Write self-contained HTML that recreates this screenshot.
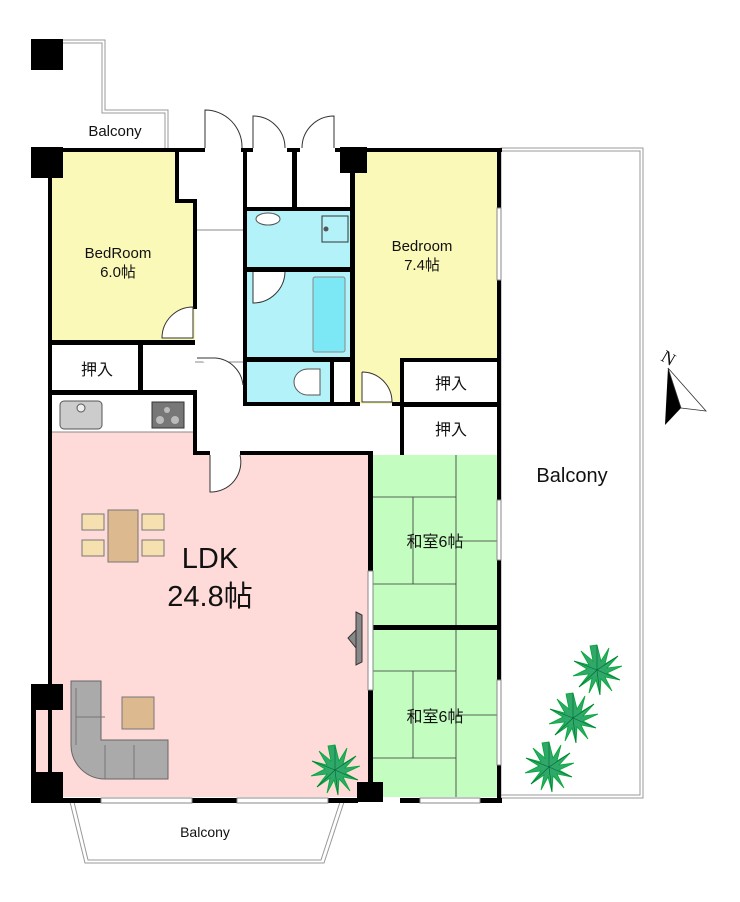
<!DOCTYPE html>
<html><head><meta charset="utf-8"><style>
html,body{margin:0;padding:0;background:#fff}
svg{display:block}
text{font-family:"Liberation Sans","Noto Sans CJK JP",sans-serif;fill:#111}
</style></head><body>
<svg width="740" height="902" viewBox="0 0 740 902" xmlns="http://www.w3.org/2000/svg">
<defs>
<g id="plant">
<polygon points="0,-25 4,-9 12,-22 8,-6 21,-14 10,-2 25,-4 10,3 23,10 8,7 15,21 4,9 3,25 -1,10 -8,23 -5,8 -18,17 -8,4 -24,6 -10,-1 -23,-9 -8,-5 -16,-19 -4,-9 -7,-24" fill="#2fa86a" stroke="#0a3" stroke-width="0.8"/>
<g stroke="#063" stroke-width="0.6"><line x1="0" y1="0" x2="0" y2="-25"/><line x1="0" y1="0" x2="21" y2="-14"/><line x1="0" y1="0" x2="23" y2="10"/><line x1="0" y1="0" x2="3" y2="25"/><line x1="0" y1="0" x2="-18" y2="17"/><line x1="0" y1="0" x2="-23" y2="-9"/></g>
</g>
</defs>

<g fill="none" stroke="#999" stroke-width="1">
<path d="M60,40 H105 V110 H168 V148"/><path d="M63,43 H102 V113 H165 V148"/>
<rect x="501" y="148" width="142" height="650"/><rect x="501" y="151" width="139" height="644"/>
<path d="M70,802 L85,863 H324 L344,802"/><path d="M74,802 L88,860 H321 L340,802"/>
</g>

<path d="M52,152 H176 V200 H195 V342 H52 Z" fill="#fbf9b8"/>
<rect x="355" y="152" width="143" height="208" fill="#fbf9b8"/>
<rect x="355" y="358" width="45" height="46" fill="#fbf9b8"/>
<rect x="247" y="210" width="103" height="57" fill="#b2f2f8"/>
<rect x="247" y="272" width="103" height="85" fill="#b2f2f8"/>
<rect x="247" y="362" width="83" height="40" fill="#b2f2f8"/>
<rect x="313" y="277" width="32" height="75" fill="#7de8f5" stroke="#888" rx="2"/>
<path d="M52,432 H195 V455 H368 V797 H52 Z" fill="#fedbd9"/>
<rect x="35" y="710" width="20" height="62" fill="#fedbd9"/>
<rect x="372" y="455" width="126" height="172" fill="#c3fdc0"/>
<rect x="372" y="630" width="126" height="167" fill="#c3fdc0"/>

<g stroke="#333" stroke-width="0.8" fill="none">
<line x1="456" y1="455" x2="456" y2="627"/><line x1="372" y1="497" x2="456" y2="497"/><line x1="413" y1="497" x2="413" y2="584"/><line x1="372" y1="584" x2="456" y2="584"/><line x1="456" y1="541" x2="498" y2="541"/>
<line x1="456" y1="630" x2="456" y2="797"/><line x1="372" y1="671" x2="456" y2="671"/><line x1="413" y1="671" x2="413" y2="758"/><line x1="372" y1="758" x2="456" y2="758"/><line x1="456" y1="715" x2="498" y2="715"/>
</g>

<g stroke="#888" stroke-width="1" fill="none">
<line x1="195" y1="230" x2="245" y2="230"/>
<line x1="52" y1="432" x2="195" y2="432"/>
<line x1="195" y1="362" x2="245" y2="362"/>
</g>

<g fill="#000">
<rect x="48" y="148" width="130" height="4"/>
<rect x="175" y="148" width="30" height="4"/><rect x="241" y="148" width="12" height="4"/><rect x="287" y="148" width="13" height="4"/><rect x="335" y="148" width="167" height="4"/>
<rect x="48" y="148" width="4" height="650"/>
<rect x="175" y="148" width="4" height="55"/><rect x="175" y="199" width="20" height="4"/>
<rect x="193" y="199" width="4" height="110"/>
<rect x="52" y="340" width="143" height="5"/>
<rect x="138" y="345" width="5" height="48"/>
<rect x="52" y="390" width="145" height="5"/>
<rect x="193" y="395" width="4" height="60"/>
<rect x="195" y="451" width="15" height="4"/><rect x="240" y="451" width="132" height="4"/>
<rect x="243" y="152" width="4" height="254"/>
<rect x="292" y="152" width="5" height="57"/>
<rect x="247" y="207" width="106" height="4"/>
<rect x="247" y="267" width="106" height="5"/>
<rect x="247" y="357" width="106" height="5"/>
<rect x="330" y="362" width="4" height="40"/>
<rect x="350" y="152" width="5" height="254"/>
<rect x="243" y="402" width="117" height="4"/><rect x="392" y="402" width="12" height="4"/>
<rect x="400" y="358" width="100" height="4"/>
<rect x="400" y="358" width="4" height="97"/>
<rect x="404" y="402" width="96" height="5"/>
<rect x="497" y="148" width="4" height="60"/><rect x="497" y="280" width="4" height="220"/><rect x="497" y="560" width="4" height="120"/><rect x="497" y="765" width="4" height="37"/>
<rect x="368" y="451" width="5" height="120"/><rect x="368" y="690" width="5" height="112"/>
<rect x="372" y="625" width="126" height="5"/>
<rect x="31" y="798" width="70" height="5"/><rect x="192" y="798" width="45" height="5"/><rect x="328" y="798" width="30" height="5"/><rect x="400" y="798" width="20" height="5"/><rect x="480" y="798" width="22" height="5"/>
<rect x="31" y="684" width="5" height="118"/>
<rect x="31" y="39" width="32" height="31"/>
<rect x="31" y="147" width="32" height="31"/>
<rect x="340" y="147" width="27" height="26"/>
<rect x="31" y="684" width="32" height="26"/>
<rect x="31" y="772" width="32" height="30"/>
<rect x="357" y="782" width="26" height="20"/>
</g>

<g stroke="#888" stroke-width="1" fill="#fff">
<rect x="497" y="208" width="4" height="72"/><rect x="497" y="500" width="4" height="60"/><rect x="497" y="680" width="4" height="85"/>
<rect x="101" y="798" width="91" height="5"/><rect x="237" y="798" width="91" height="5"/><rect x="420" y="798" width="60" height="5"/>
<rect x="368" y="571" width="5" height="119"/>
</g>

<g fill="#fff" stroke="#333" stroke-width="1">
<path d="M205,148 V110 A37,37 0 0 1 242,148"/>
<path d="M253,148 V116 A32,32 0 0 1 285,148"/>
<path d="M334,148 V116 A32,32 0 0 0 302,148"/>
<path d="M193,307 V338 H162 A31,31 0 0 1 193,307"/>
<path d="M253,272 V303 A32,32 0 0 0 285,272"/>
<path d="M362,372 V402 H392 A30,30 0 0 0 362,372"/>
<path d="M210,455 V492 A30,30 0 0 0 240,455"/>
<path d="M197,358 H215 A30,30 0 0 1 243,385"/>
</g>

<rect x="60" y="401" width="42" height="28" rx="4" fill="#ccc" stroke="#555"/>
<circle cx="81" cy="408" r="4" fill="#eee" stroke="#555"/>
<rect x="152" y="402" width="32" height="26" fill="#777" stroke="#333"/>
<g fill="#bbb"><circle cx="160" cy="420" r="4"/><circle cx="175" cy="420" r="4"/><circle cx="167" cy="410" r="3"/></g>
<ellipse cx="268" cy="219" rx="12" ry="6" fill="#fff" stroke="#555"/>
<rect x="322" y="216" width="26" height="26" fill="none" stroke="#333"/>
<circle cx="326" cy="229" r="2.5" fill="#555"/>
<path d="M308,369 H320 V395 H308 A14,13 0 0 1 308,369 Z" fill="#fff" stroke="#555"/>
<rect x="108" y="510" width="30" height="52" fill="#dcb98f" stroke="#777"/>
<g fill="#f6e0b0" stroke="#777"><rect x="82" y="514" width="22" height="16"/><rect x="82" y="540" width="22" height="16"/><rect x="142" y="514" width="22" height="16"/><rect x="142" y="540" width="22" height="16"/></g>
<rect x="122" y="697" width="32" height="32" fill="#dcb98f" stroke="#777"/>
<path d="M71,681 H101 V740 H168 V779 H105 A34,34 0 0 1 71,745 Z" fill="#aaa" stroke="#666"/>
<g stroke="#777" fill="none"><line x1="76" y1="688" x2="76" y2="745"/><line x1="76" y1="717" x2="105" y2="717"/><line x1="105" y1="745" x2="105" y2="779"/><line x1="134" y1="745" x2="134" y2="779"/></g>
<path d="M356,612 L362,615 V662 L356,665 Z" fill="#888" stroke="#333"/>
<path d="M356,630 L348,638 L356,648 Z" fill="#888" stroke="#333"/>

<use href="#plant" x="335" y="770"/>
<use href="#plant" x="597" y="670"/>
<use href="#plant" x="573" y="718"/>
<use href="#plant" x="549" y="767"/>

<polygon points="668,368 681,408 665,425" fill="#000"/>
<polygon points="668,368 706,411 681,408" fill="#fff" stroke="#333" stroke-width="0.8"/>
<text x="662" y="362" font-size="18" transform="rotate(30 665 357)" style="font-family:'Liberation Serif',serif">N</text>

<text x="115" y="136" font-size="15" text-anchor="middle">Balcony</text>
<text x="118" y="258" font-size="15" text-anchor="middle">BedRoom</text>
<text x="118" y="277" font-size="15" text-anchor="middle">6.0帖</text>
<text x="422" y="251" font-size="15" text-anchor="middle">Bedroom</text>
<text x="422" y="270" font-size="15" text-anchor="middle">7.4帖</text>
<text x="97" y="375" font-size="16" text-anchor="middle">押入</text>
<text x="451" y="389" font-size="16" text-anchor="middle">押入</text>
<text x="451" y="435" font-size="16" text-anchor="middle">押入</text>
<text x="210" y="568" font-size="29" text-anchor="middle">LDK</text>
<text x="210" y="606" font-size="29" text-anchor="middle">24.8帖</text>
<text x="435" y="547" font-size="16" text-anchor="middle">和室6帖</text>
<text x="435" y="722" font-size="16" text-anchor="middle">和室6帖</text>
<text x="572" y="482" font-size="20" text-anchor="middle">Balcony</text>
<text x="205" y="837" font-size="14" text-anchor="middle">Balcony</text>
</svg>
</body></html>
